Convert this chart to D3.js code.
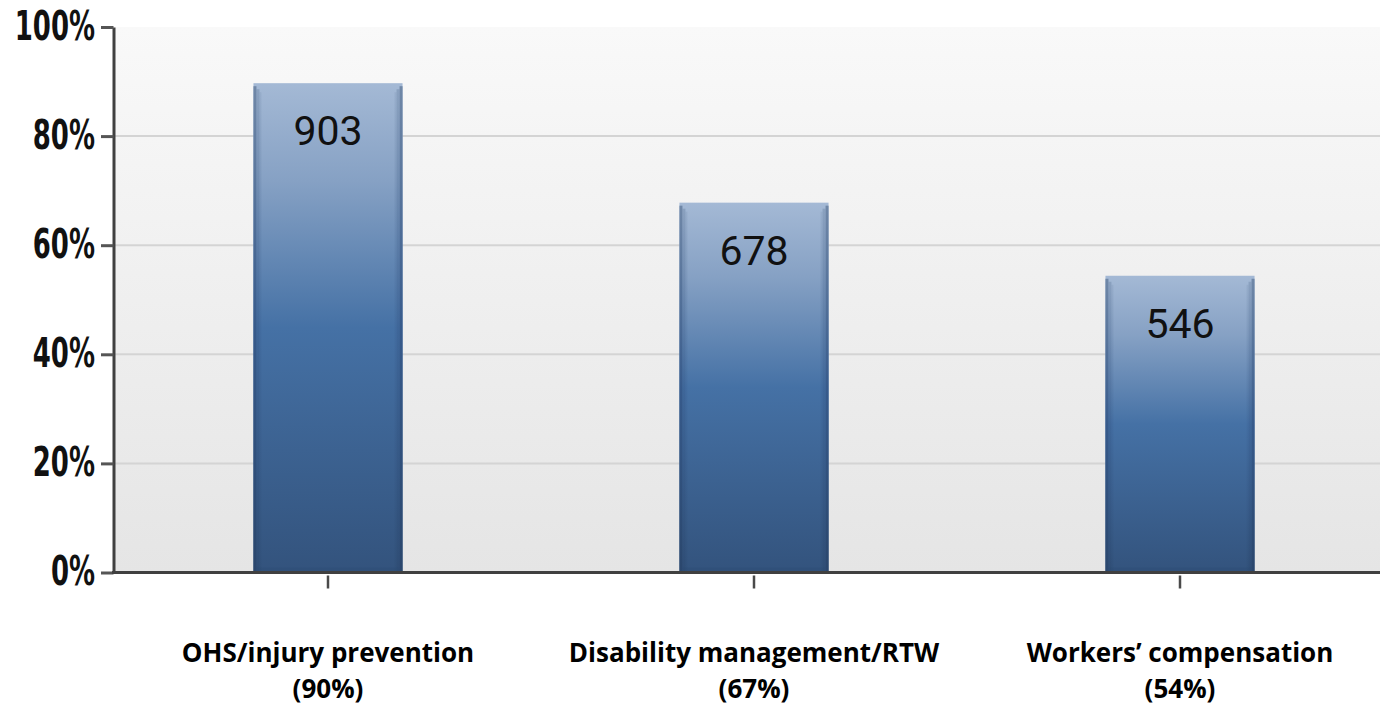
<!DOCTYPE html>
<html>
<head>
<meta charset="utf-8">
<script src="https://cdn.jsdelivr.net/npm/d3@7"></script>
<style>
  html, body { margin: 0; padding: 0; background: #ffffff; }
  svg { display: block; }
</style>
</head>
<body>
<svg id="chart" width="1380" height="710"></svg>
<script>
// ---- data ----
const categories = ["OHS/injury prevention", "Disability management/RTW", "Workers\u2019 compensation"];
const categoryPercentLabels = ["(90%)", "(67%)", "(54%)"];
const values = [89.7, 67.8, 54.4];          // bar heights in %
const counts = ["903", "678", "546"];        // labels inside bars
const yTicks = [0, 20, 40, 60, 80, 100];

(function () {
// ---- layout ----
const W = 1380, H = 710;
const mLeft = 115, mTop = 27, mBottom = 572.5, rightRange = 1393;

const svg = d3.select("#chart");
const defs = svg.append("defs");

const bg = defs.append("linearGradient").attr("id", "bg").attr("x1", 0).attr("y1", 0).attr("x2", 0).attr("y2", 1);
bg.append("stop").attr("offset", "0%").attr("stop-color", "#f9f9f9");
bg.append("stop").attr("offset", "100%").attr("stop-color", "#e5e5e5");

const bar = defs.append("linearGradient").attr("id", "bar").attr("x1", 0).attr("y1", 0).attr("x2", 0).attr("y2", 1);
bar.append("stop").attr("offset", "0%").attr("stop-color", "#a4b9d5");
bar.append("stop").attr("offset", "20%").attr("stop-color", "#86a1c4");
bar.append("stop").attr("offset", "50%").attr("stop-color", "#4571a5");
bar.append("stop").attr("offset", "100%").attr("stop-color", "#33537d");

const edge = defs.append("linearGradient").attr("id", "edge").attr("x1", 0).attr("y1", 0).attr("x2", 0).attr("y2", 1);
edge.append("stop").attr("offset", "0%").attr("stop-color", "#6d85a5");
edge.append("stop").attr("offset", "50%").attr("stop-color", "#36598a");
edge.append("stop").attr("offset", "100%").attr("stop-color", "#2a466c");

const x = d3.scaleBand().domain(categories).range([mLeft, rightRange])
  .paddingInner(0.65).paddingOuter(0.325);
const y = d3.scaleLinear().domain([0, 100]).range([mBottom, mTop]);

// plot background
svg.append("rect")
  .attr("x", mLeft).attr("y", y(100)).attr("width", W - mLeft).attr("height", y(0) - y(100))
  .attr("fill", "url(#bg)");

// gridlines
svg.append("g").selectAll("line")
  .data(yTicks.filter(d => d > 0 && d < 100))
  .join("line")
  .attr("x1", mLeft).attr("x2", W)
  .attr("y1", d => y(d)).attr("y2", d => y(d))
  .attr("stroke", "#d4d4d4").attr("stroke-width", 2);

// bars
const bw = x.bandwidth();
const g = svg.append("g").selectAll("g").data(values).join("g")
  .attr("transform", (d, i) => `translate(${x(categories[i])},0)`);

g.append("rect")
  .attr("x", 0).attr("y", d => y(d)).attr("width", bw).attr("height", d => y(0) - y(d))
  .attr("fill", "url(#bar)");
// left / right darker edges (bevel)
[[0, 3, 0.95], [3, 3, 0.45], [6, 2, 0.2]].forEach(([off, w, op]) => {
  g.append("rect")
    .attr("x", off).attr("y", d => y(d) + 3 + off).attr("width", w).attr("height", d => y(0) - y(d) - 3 - off)
    .attr("fill", "url(#edge)").attr("opacity", op);
  g.append("rect")
    .attr("x", bw - off - w).attr("y", d => y(d) + 3 + off).attr("width", w).attr("height", d => y(0) - y(d) - 3 - off)
    .attr("fill", "url(#edge)").attr("opacity", op);
});
// bottom darker edge
g.append("rect")
  .attr("x", 3).attr("y", y(0) - 5).attr("width", bw - 6).attr("height", 5)
  .attr("fill", "#2c4a72").attr("opacity", 0.35);

// value labels inside bars
g.append("text")
  .attr("x", bw / 2).attr("y", d => y(d) + 62)
  .attr("text-anchor", "middle")
  .attr("font-family", "Roboto, 'Liberation Sans', sans-serif")
  .attr("font-size", 41)
  .attr("fill", "#111")
  .text((d, i) => counts[i]);

// y axis
const sx = 0.65;
const yAxis = svg.append("g").attr("transform", `translate(${mLeft - 1.5},0)`)
  .call(d3.axisLeft(y).tickValues(yTicks).tickFormat(d => d + "%").tickSize(12.5).tickSizeOuter(0).tickPadding(6));
yAxis.select(".domain").attr("stroke", "#404040").attr("stroke-width", 3);
yAxis.selectAll(".tick line").attr("stroke", "#555").attr("stroke-width", 3);
yAxis.selectAll(".tick text")
  .attr("font-family", "'DejaVu Sans', sans-serif")
  .attr("font-weight", "bold")
  .attr("font-size", 40)
  .attr("fill", "#111")
  .attr("dy", "0.31em")
  .attr("x", function () { return +d3.select(this).attr("x") / sx; })
  .attr("transform", `scale(${sx},1)`);

// x axis
const xAxis = svg.append("g").attr("transform", `translate(0,${mBottom})`)
  .call(d3.axisBottom(x).tickSize(16).tickSizeOuter(0).tickFormat(""));
xAxis.select(".domain").attr("d", `M${mLeft - 3},0H${W}`).attr("stroke", "#404040").attr("stroke-width", 3);
xAxis.selectAll(".tick line").attr("stroke", "#4a4a4a").attr("stroke-width", 2.5).attr("y1", 3);

// category labels (two separate lines)
const labG = svg.append("g")
  .attr("font-family", "'Open Sans', Lato, sans-serif")
  .attr("font-weight", "bold")
  .attr("font-size", 26)
  .attr("fill", "#000")
  .attr("text-anchor", "middle");
labG.selectAll("text.l1").data(categories).join("text").attr("class", "l1")
  .attr("x", d => x(d) + bw / 2).attr("y", 662).text(d => d);
labG.selectAll("text.l2").data(categories).join("text").attr("class", "l2")
  .attr("x", d => x(d) + bw / 2).attr("y", 697.5).text((d, i) => categoryPercentLabels[i]);
})();
</script>
</body>
</html>
